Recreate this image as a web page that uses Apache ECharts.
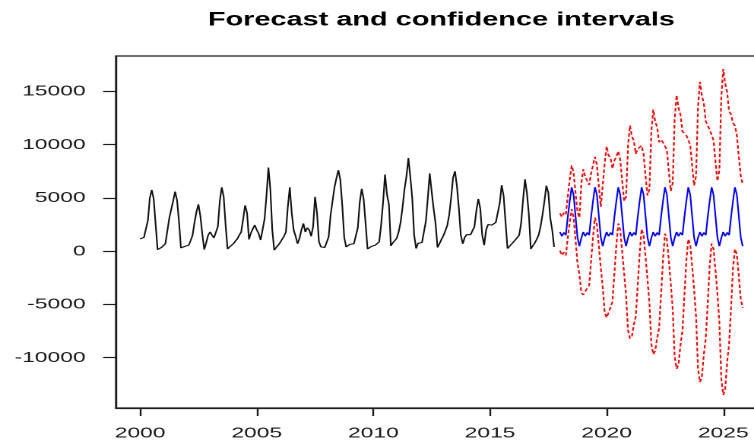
<!DOCTYPE html>
<html>
<head>
<meta charset="utf-8">
<title>Forecast and confidence intervals</title>
<script src="https://cdn.jsdelivr.net/npm/echarts@6/dist/echarts.min.js"></script>
<style>
  html, body { margin: 0; padding: 0; background: #ffffff; }
  #frame { width: 754px; height: 444px; overflow: hidden; position: relative; background: #ffffff; }
  /* the plot is laid out on a narrower canvas and widened, like the exported R graphic */
  #chart { width: 496px; height: 444px; transform: scaleX(1.5202); transform-origin: 0 0; }
</style>
</head>
<body>
<div id="frame"><div id="chart"></div></div>
<script>
// ---- data -------------------------------------------------------------
const chartTitle = 'Forecast and confidence intervals';

// monthly observations, Jan 2000 .. Oct 2017
const observedStart = 2000;
const observed = [
  1150, 1250, 1300, 1350, 2900, 5000, 5750, 4900, 2500, 150, 250, 350,
  350, 700, 1900, 3100, 3900, 4700, 5600, 4800, 2800, 300, 300, 450,
  500, 560, 1000, 1500, 2700, 3700, 4400, 3300, 1600, 150, 800, 1500,
  1800, 1500, 1250, 1100, 2300, 4700, 6000, 5100, 2400, 200, 400, 550,
  700, 950, 1150, 1500, 1800, 3000, 4300, 3600, 1100, 1700, 2100, 2450,
  2000, 1650, 1050, 2000, 3000, 5200, 7850, 5800, 2000, 100, 350, 550,
  800, 1100, 1400, 1800, 4200, 6000, 3600, 2000, 1400, 700, 1200, 2000,
  2600, 1800, 2200, 2000, 1400, 2300, 5100, 3600, 900, 400, 400, 350,
  250, 1350, 3400, 4700, 6000, 6850, 7600, 6700, 4300, 1300, 400, 560,
  650, 650, 700, 700, 2200, 4600, 5850, 4900, 2600, 200, 350, 450,
  500, 560, 700, 880, 2500, 4600, 7200, 5300, 4400, 500, 780, 850,
  1200, 1800, 2700, 4100, 5800, 7000, 8750, 7000, 5000, 1500, 250, 750,
  880, 800, 900, 2800, 5000, 7300, 5600, 4000, 2600, 350, 700, 1100,
  1450, 1900, 2400, 3400, 5000, 6900, 7500, 6100, 4000, 1500, 700, 1300,
  1550, 1650, 1550, 1500, 2300, 3800, 4900, 4000, 1500, 560, 2000, 2500,
  2500, 2450, 2350, 2700, 3600, 4500, 6200, 5200, 2700, 250, 450, 650,
  850, 1050, 1200, 1500, 2600, 4800, 6750, 5450, 3400, 200, 500, 750,
  1100, 1500, 2300, 3400, 4700, 6150, 5500, 3100, 2000, 400
];

// monthly forecast, Jan 2018 .. Nov 2025
const forecastStart = 2018;
const forecastMean = [
  1800, 1400, 1750, 1500, 3200, 4700, 6000, 5300, 3300, 1300, 470, 1250,
  1800, 1400, 1750, 1500, 3200, 4700, 6000, 5300, 3300, 1300, 470, 1250,
  1800, 1400, 1750, 1500, 3200, 4700, 6000, 5300, 3300, 1300, 470, 1250,
  1800, 1400, 1750, 1500, 3200, 4700, 6000, 5300, 3300, 1300, 470, 1250,
  1800, 1400, 1750, 1500, 3200, 4700, 6000, 5300, 3300, 1300, 470, 1250,
  1800, 1400, 1750, 1500, 3200, 4700, 6000, 5300, 3300, 1300, 470, 1250,
  1800, 1400, 1750, 1500, 3200, 4700, 6000, 5300, 3300, 1300, 470, 1250,
  1800, 1400, 1750, 1500, 3200, 4700, 6000, 5300, 3300, 1300, 470
];
const upperBound = [
  3550, 3200, 3600, 3400, 5150, 6700, 8050, 7400, 5500, 3700, 3140, 6390,
  7700, 6990, 6970, 6220, 7300, 8060, 8860, 8100, 6100, 4160, 4320, 8250,
  9850, 8980, 8760, 7750, 8500, 8860, 9400, 8600, 6600, 4700, 5110, 9910,
  11800, 10780, 10390, 9140, 9600, 9620, 9920, 9100, 7100, 5220, 5810, 11210,
  13300, 12170, 11640, 10230, 10470, 10210, 10350, 9500, 7500, 5650, 6400, 12370,
  14650, 13440, 12810, 11250, 11320, 10870, 10860, 10000, 8000, 6160, 7050, 13470,
  15900, 14600, 13870, 12180, 12080, 11420, 11280, 10400, 8400, 6580, 7610, 14510,
  17100, 15730, 14920, 13110, 12870, 12050, 11790, 10900, 8900, 7090, 6270
];
const lowerBound = [
  50, -400, -100, -400, 1250, 2700, 3950, 3200, 1100, -1100, -2200, -3890,
  -4100, -4190, -3470, -3220, -900, 1340, 3140, 2500, 500, -1560, -3380, -5750,
  -6250, -6180, -5260, -4750, -2100, 550, 2600, 2000, 0, -2100, -4170, -7410,
  -8200, -7980, -6890, -6140, -3200, -220, 2080, 1500, -500, -2620, -4870, -8710,
  -9700, -9370, -8140, -7230, -4070, -810, 1650, 1100, -900, -3050, -5460, -9870,
  -11050, -10640, -8800, -7500, -4200, -900, 1140, 600, -1400, -3560, -6110, -10970,
  -12300, -11800, -9700, -8200, -4900, -1400, 720, 200, -1800, -3980, -6670, -12010,
  -13500, -12930, -10400, -8700, -5300, -1600, 210, -300, -2300, -4490, -5330
];

const xTicks = [2000, 2005, 2010, 2015, 2020, 2025];
const yTicks = [-10000, -5000, 0, 5000, 10000, 15000];

// ---- helpers ----------------------------------------------------------
function monthly(startYear, values) {
  return values.map((v, i) => [startYear + i / 12, v]);
}

// R-style axis ranges: data range widened by 4% on each side
function paddedRange(lo, hi) {
  const pad = (hi - lo) * 0.04;
  return [lo - pad, hi + pad];
}

const obsSeries = monthly(observedStart, observed);
const meanSeries = monthly(forecastStart, forecastMean);
const upperSeries = monthly(forecastStart, upperBound);
const lowerSeries = monthly(forecastStart, lowerBound);

const tFirst = observedStart;
const tLast = forecastStart + (forecastMean.length - 1) / 12;
const [xMin, xMax] = paddedRange(tFirst, tLast);

const allValues = observed.concat(forecastMean, upperBound, lowerBound);
const [yMin, yMax] = paddedRange(Math.min(...allValues), Math.max(...allValues));

// ---- chart ------------------------------------------------------------
const font = '"Liberation Sans", Arial, Helvetica, sans-serif';
const ink = '#1c1c1c';

const gridLeft = 76.3;
const gridWidth = 428.1;
const gridTop = 56;
const gridHeight = 352;

const chart = echarts.init(document.getElementById('chart'), null, {
  renderer: 'canvas',
  devicePixelRatio: 2
});

chart.setOption({
  animation: false,
  backgroundColor: '#ffffff',
  graphic: [{
    type: 'text',
    x: gridLeft + gridWidth / 2,
    y: 11,
    style: {
      text: chartTitle,
      textAlign: 'center',
      textVerticalAlign: 'top',
      font: 'bold 19px ' + font,
      fill: '#000000'
    }
  }],
  grid: {
    left: gridLeft,
    top: gridTop,
    width: gridWidth,
    height: gridHeight,
    containLabel: false,
    outerBoundsMode: 'none',
    show: true,
    borderColor: ink,
    borderWidth: 1.2,
    backgroundColor: 'transparent'
  },
  xAxis: {
    type: 'value',
    position: 'bottom',
    min: xMin,
    max: xMax,
    axisLine: { show: true, onZero: false, lineStyle: { color: ink, width: 1.2 } },
    splitLine: { show: false },
    axisTick: {
      show: true,
      customValues: xTicks,
      length: 8,
      lineStyle: { color: ink, width: 1.2 }
    },
    axisLabel: {
      customValues: xTicks,
      formatter: v => String(v),
      fontFamily: font,
      fontSize: 15,
      color: ink,
      margin: 18
    }
  },
  yAxis: {
    type: 'value',
    position: 'left',
    min: yMin,
    max: yMax,
    axisLine: { show: true, onZero: false, lineStyle: { color: ink, width: 1.2 } },
    splitLine: { show: false },
    axisTick: {
      show: true,
      customValues: yTicks,
      length: 8.5,
      lineStyle: { color: ink, width: 1.2 }
    },
    axisLabel: {
      customValues: yTicks,
      formatter: v => String(v),
      fontFamily: font,
      fontSize: 15,
      color: ink,
      margin: 20
    }
  },
  series: [
    {
      name: 'observed',
      type: 'line',
      data: obsSeries,
      showSymbol: false,
      lineStyle: { color: '#111111', width: 1.05 },
      z: 2
    },
    {
      name: 'forecast',
      type: 'line',
      data: meanSeries,
      showSymbol: false,
      lineStyle: { color: '#0000ff', width: 1.05 },
      z: 3
    },
    {
      name: 'upper',
      type: 'line',
      data: upperSeries,
      showSymbol: false,
      lineStyle: { color: '#ff0000', width: 1.1, type: [3.5, 2.2] },
      z: 4
    },
    {
      name: 'lower',
      type: 'line',
      data: lowerSeries,
      showSymbol: false,
      lineStyle: { color: '#ff0000', width: 1.1, type: [3.5, 2.2] },
      z: 4
    }
  ]
});
</script>
</body>
</html>
